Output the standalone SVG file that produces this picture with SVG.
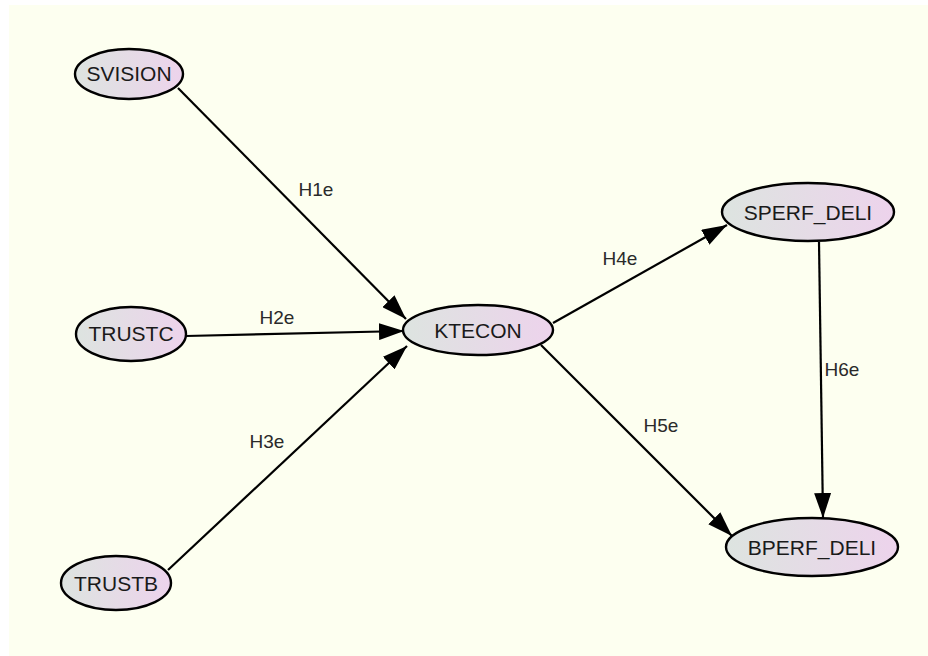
<svg xmlns="http://www.w3.org/2000/svg" width="928" height="656" viewBox="0 0 928 656">
<style>
.n{stroke:#000;stroke-width:2.4;fill:url(#g)}
.nt{font-family:"Liberation Sans",Arial,sans-serif;font-size:21px;fill:#1a1a1a;text-anchor:middle;dominant-baseline:central}
.e{stroke:#000;stroke-width:2.2;fill:none;marker-end:url(#a)}
.et{font-family:"Liberation Sans",Arial,sans-serif;font-size:19px;fill:#2a2a2a;text-anchor:middle;dominant-baseline:central}
</style>
<defs>
<linearGradient id="g" x1="0" y1="0" x2="1" y2="0">
<stop offset="0" stop-color="#dde4e0"/>
<stop offset="1" stop-color="#edd3ec"/>
</linearGradient>
<marker id="a" markerUnits="userSpaceOnUse" viewBox="0 0 25 17" refX="25" refY="8.5" markerWidth="25" markerHeight="17" orient="auto">
<path d="M0,0 L25,8.5 L0,17 Z" fill="#000"/>
</marker>
</defs>
<rect x="0" y="0" width="928" height="656" fill="#fff"/>
<rect x="9" y="5" width="919" height="651" fill="#fdfff0"/>
<g id="connectors">
<line class="e" x1="178" y1="88" x2="406" y2="319"/>
<line class="e" x1="186" y1="336" x2="404" y2="331"/>
<line class="e" x1="168" y1="570" x2="407" y2="346"/>
<line class="e" x1="553" y1="323" x2="727" y2="225"/>
<line class="e" x1="541" y1="345" x2="732" y2="536"/>
<line class="e" x1="819" y1="242" x2="823" y2="518"/>
<text class="et" x="316" y="189">H1e</text>
<text class="et" x="277" y="317">H2e</text>
<text class="et" x="267" y="441">H3e</text>
<text class="et" x="620" y="258">H4e</text>
<text class="et" x="661" y="425">H5e</text>
<text class="et" x="842" y="369">H6e</text>
</g>
<g id="SVISION"><ellipse class="n" cx="129" cy="74" rx="54" ry="25"/><text class="nt" x="129" y="73">SVISION</text></g>
<g id="TRUSTC"><ellipse class="n" cx="131" cy="334" rx="55" ry="27"/><text class="nt" x="131" y="333">TRUSTC</text></g>
<g id="TRUSTB"><ellipse class="n" cx="116" cy="583" rx="55" ry="27"/><text class="nt" x="116" y="583">TRUSTB</text></g>
<g id="KTECON"><ellipse class="n" cx="478" cy="330" rx="75" ry="25"/><text class="nt" x="478" y="330">KTECON</text></g>
<g id="SPERF_DELI"><ellipse class="n" cx="808" cy="212" rx="86" ry="29"/><text class="nt" x="808" y="212">SPERF_DELI</text></g>
<g id="BPERF_DELI"><ellipse class="n" cx="812" cy="547" rx="86" ry="29"/><text class="nt" x="812" y="547">BPERF_DELI</text></g>
</svg>
